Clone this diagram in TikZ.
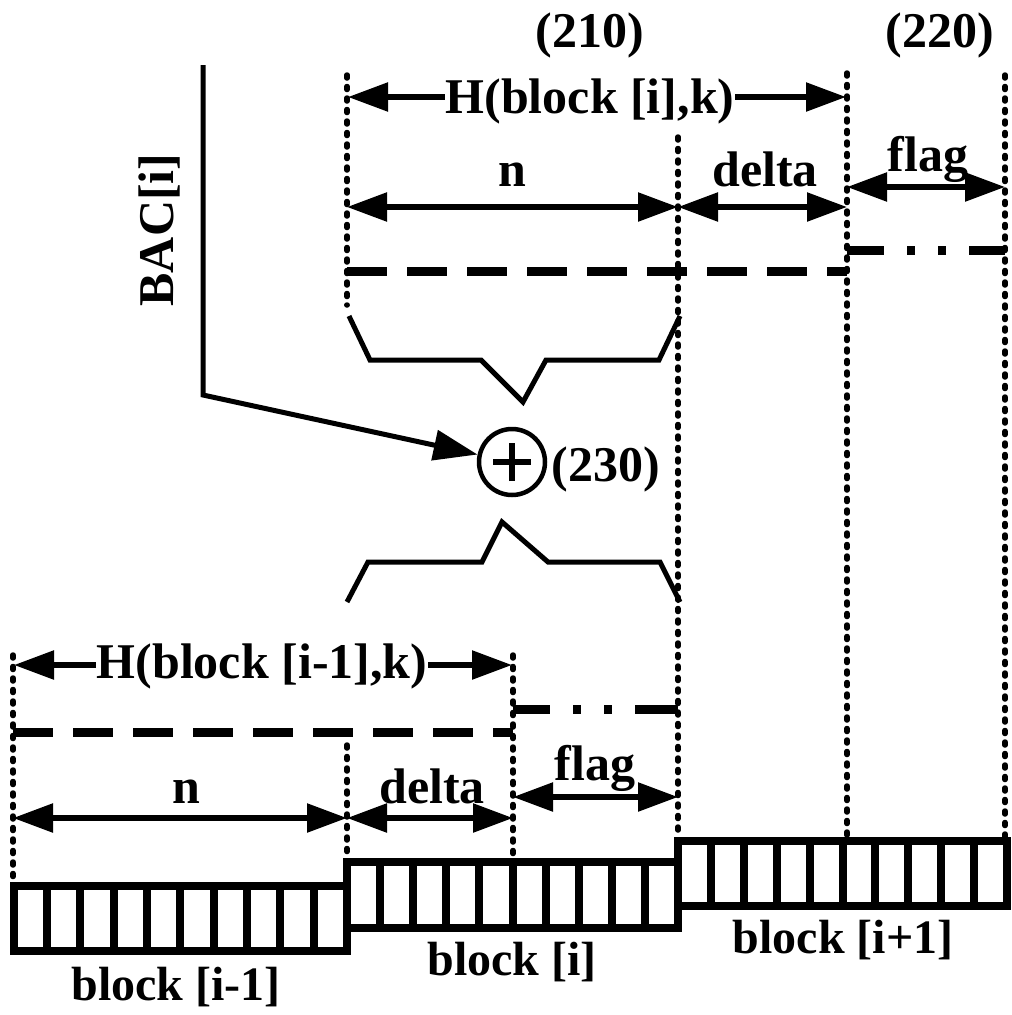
\documentclass[tikz,border=0pt]{standalone}
\usepackage{fontspec}
\setmainfont{Liberation Serif}
\usetikzlibrary{arrows.meta}
\tikzset{
  dotline/.style={line width=5.5pt, line cap=round, dash pattern=on 3pt off 8.5pt},
  dimarrow/.style={line width=5.5pt, {Triangle[length=40pt,width=28pt]}-{Triangle[length=40pt,width=28pt]}},
  dashline/.style={line width=9pt, dash pattern=on 40pt off 20pt},
  dashdotline/.style={line width=9pt, dash pattern=on 37pt off 23pt on 8pt off 23pt on 8pt off 23pt on 60pt off 0pt},
  lbl/.style={font=\fontsize{50}{60}\selectfont\bfseries, inner sep=0pt, anchor=base},
  blbl/.style={font=\fontsize{48}{58}\selectfont\bfseries, inner sep=0pt, anchor=base},
  cellbox/.style={line width=8pt},
  bracepath/.style={line width=5pt, line join=miter},
  feed/.style={line width=5pt, -{Triangle[length=44pt,width=30pt]}},
}
\begin{document}
\begin{tikzpicture}[x=1pt,y=-1pt]
\useasboundingbox[fill=white] (0,0) rectangle (1012,1015);

% ---------- blocks ----------
\draw[cellbox] (13.5,886) rectangle (347,951);
\foreach \k in {1,...,9} \draw[cellbox] ({13.5+\k*33.35},886) -- ++(0,65);
\draw[cellbox] (347,862) rectangle (678,928);
\foreach \k in {1,...,9} \draw[cellbox] ({347+\k*33.1},862) -- ++(0,66);
\draw[cellbox] (678,841) rectangle (1007,906);
\foreach \k in {1,...,9} \draw[cellbox] ({678+\k*32.9},841) -- ++(0,65);

\node[blbl] (lbim1) at (176,1000) {block [i-1]};
\node[blbl] (lbi) at (512,975) {block [i]};
\node[blbl] (lbip1) at (843,953) {block [i+1]};

% ---------- coordinates ----------
\coordinate (a347t) at (347,75);   \coordinate (a347b) at (347,305);
\coordinate (a678t) at (678,137);  \coordinate (a678b) at (678,838);
\coordinate (a847t) at (847,73);   \coordinate (a847b) at (847,838);
\coordinate (a1005t) at (1005,75); \coordinate (a1005b) at (1005,838);
\coordinate (b13t) at (13,655);    \coordinate (b13b) at (13,882);
\coordinate (b347t) at (347,745);  \coordinate (b347b) at (347,858);
\coordinate (b513t) at (513,655);  \coordinate (b513b) at (513,858);

% ---------- dotted lines ----------
\draw[dotline] (a347t) -- (a347b);
\draw[dotline] (a678t) -- (a678b);
\draw[dotline] (a847t) -- (a847b);
\draw[dotline] (a1005t) -- (a1005b);
\draw[dotline] (b13t) -- (b13b);
\draw[dotline] (b347t) -- (b347b);
\draw[dotline] (b513t) -- (b513b);

% ---------- upper group (210)/(220) ----------
\node[lbl] (l210) at (590,47) {(210)};
\node[lbl] (l220) at (940,47) {(220)};

\coordinate (hL) at (348,97); \coordinate (hR) at (846,97);
\draw[dimarrow] (hL) -- (hR);
\node[lbl, fill=white, inner xsep=1pt] (hi) at (590,113) {H(block [i],k)};

\coordinate (nL) at (347,207); \coordinate (nR) at (678,207); \coordinate (dR) at (847,207);
\draw[dimarrow] (nL) -- (nR);
\draw[dimarrow] (nR) -- (dR);
\node[lbl] (nu) at (512,186) {n};
\node[lbl] (du) at (765,186) {delta};

\coordinate (fL) at (847,187); \coordinate (fR) at (1005,187);
\draw[dimarrow] (fL) -- (fR);
\node[lbl] (fu) at (928,171) {flag};

\coordinate (dashUL) at (347,271); \coordinate (dashUR) at (847,271);
\draw[dashline] (dashUL) -- (dashUR);
\coordinate (ddUL) at (847,250); \coordinate (ddUR) at (1005,250);
\draw[dashdotline] (ddUL) -- (ddUR);

% ---------- braces and adder ----------
\draw[bracepath] (349,316) -- (370,360) -- (481,360) -- (523,402) -- (546,360) -- (659,360) -- (680,316);
\draw[bracepath] (347,602) -- (368,562) -- (482,562) -- (502,522) -- (548,562) -- (660,562) -- (680,602);

\node[circle, draw, line width=4.5pt, minimum size=66pt, inner sep=0pt] (sum) at (512,462) {};
\draw[line width=5.5pt] ([xshift=-19pt]sum.center) -- ([xshift=19pt]sum.center);
\draw[line width=5.5pt] ([yshift=-19pt]sum.center) -- ([yshift=19pt]sum.center);
\node[lbl] (l230) at (606,481) {(230)};

\coordinate (bactop) at (203,65); \coordinate (baccorner) at (203,395);
\draw[feed] (bactop) -- (baccorner) -- (sum);
\node[lbl, rotate=90] (bac) at (173,230) {BAC[i]};

% ---------- lower group ----------
\coordinate (hL2) at (14,665); \coordinate (hR2) at (512,665);
\draw[dimarrow] (hL2) -- (hR2);
\node[lbl, fill=white, inner xsep=1pt] (him1) at (262,678) {H(block [i-1],k)};

\coordinate (dashLL) at (13,732); \coordinate (dashLR) at (513,732);
\draw[dashline] (dashLL) -- (dashLR);
\coordinate (ddLL) at (513,709); \coordinate (ddLR) at (678,709);
\draw[dashdotline] (ddLL) -- (ddLR);

\coordinate (nL2) at (13,818); \coordinate (nR2) at (347,818); \coordinate (dR2) at (513,818);
\draw[dimarrow] (nL2) -- (nR2);
\draw[dimarrow] (nR2) -- (dR2);
\node[lbl] (nl) at (186,803) {n};
\node[lbl] (dl) at (432,803) {delta};

\coordinate (fL2) at (513,797); \coordinate (fR2) at (678,797);
\draw[dimarrow] (fL2) -- (fR2);
\node[lbl] (fl) at (595,780) {flag};
\end{tikzpicture}
\end{document}
